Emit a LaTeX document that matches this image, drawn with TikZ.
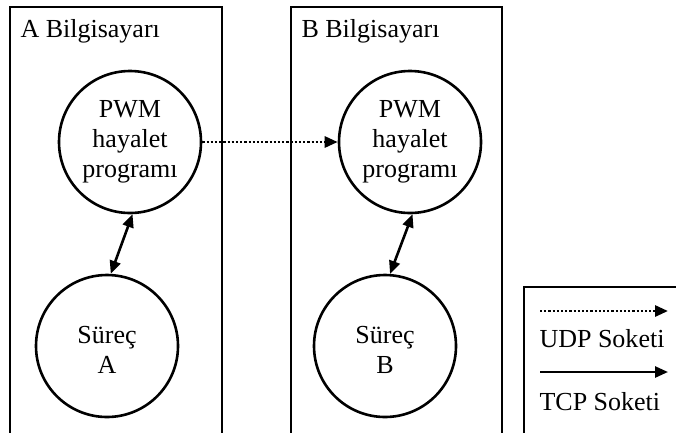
\documentclass[tikz,border=0pt]{standalone}
\usepackage{fontspec}
\setmainfont{Liberation Serif}
\usetikzlibrary{arrows.meta}
\begin{document}
\begin{tikzpicture}[x=1pt,y=-1pt,
  every node/.style={font=\fontsize{26pt}{30pt}\selectfont},
  frame/.style={line width=2.6pt},
  proc/.style={circle,draw,line width=2.6pt,minimum size=142pt,inner sep=0pt,align=center},
  tip/.style={-{Triangle[length=13pt,width=11pt]}},
  both/.style={{Triangle[length=13pt,width=11pt]}-{Triangle[length=13pt,width=11pt]}},
  link/.style={line width=2.6pt},
  udp/.style={line width=2.8pt,dash pattern=on 2.2pt off 2pt}]
\useasboundingbox (0,0) rectangle (676,432);
\clip (0,0) rectangle (676,432);
\fill[white] (0,0) rectangle (676,432);

% computer frames (open at the bottom) and legend frame
\draw[frame] (10,440) -- (10,7) -- (222,7) -- (222,440);
\draw[frame] (291,440) -- (291,7) -- (502,7) -- (502,440);
\draw[frame] (524,440) -- (524,287) -- (690,287);

\node[anchor=base west] (labA) at (17,37) {A Bilgisayarı};
\node[anchor=base west] (labB) at (298,37) {B Bilgisayarı};

% processes
\node[proc] (pA) at (130,142) {PWM\\hayalet\\programı};
\node[proc] (sA) at (107,346) {};
\node[proc] (pB) at (410,142) {PWM\\hayalet\\programı};
\node[proc] (sB) at (385,346) {};
\node[align=center] (sAtxt) at (107,350) {Süreç\\A};
\node[align=center] (sBtxt) at (385,350) {Süreç\\B};

% connections
\draw[link,both] (pA.-88) -- (sA.87);
\draw[link,both] (pB.-88) -- (sB.86);
\draw[udp,tip] (pA.east) -- (pB.west);

% legend
\coordinate (u1) at (540,311);
\coordinate (u2) at (668,311);
\coordinate (t1) at (540,372);
\coordinate (t2) at (668,372);
\draw[udp,tip] (u1) -- (u2);
\draw[link,tip] (t1) -- (t2);
\node[anchor=base west] (udpTxt) at (536,347) {UDP Soketi};
\node[anchor=base west] (tcpTxt) at (536,410) {TCP Soketi};
\end{tikzpicture}
\end{document}
